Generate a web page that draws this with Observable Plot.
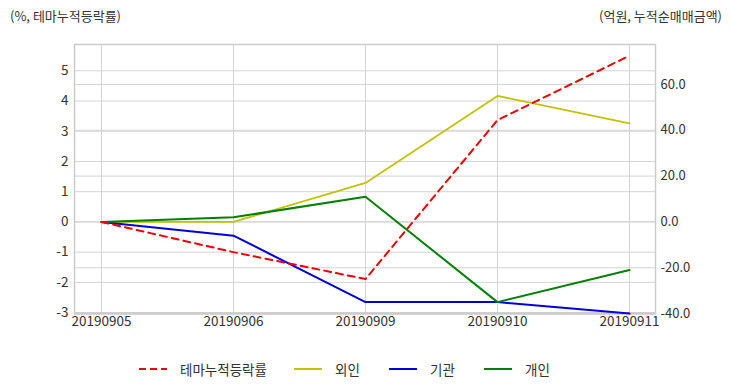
<!DOCTYPE html>
<html><head><meta charset="utf-8">
<script src="https://cdn.jsdelivr.net/npm/d3@7"></script>
<script src="https://cdn.jsdelivr.net/npm/@observablehq/plot@0.6"></script>
<style>
body{margin:0;background:#fff;font-family:"Noto Sans CJK KR","Noto Sans",sans-serif;}
#wrap{position:relative;width:732px;height:392px;overflow:hidden;}
.ttl{position:absolute;top:6px;font-size:13px;color:#333;}
#legend{position:absolute;top:359px;left:0;width:732px;height:20px;font-size:13.5px;color:#333;}
.li{position:absolute;top:0;display:flex;align-items:center;height:20px;}
.li svg{margin-right:13px;}
</style></head>
<body><div id="wrap">
<div class="ttl" style="left:10px">(%, 테마누적등락률)</div>
<div class="ttl" style="right:10px">(억원, 누적순매매금액)</div>
<div id="chart"></div>
<div id="legend"></div>
</div>
<script>
const dates = ["20190905","20190906","20190909","20190910","20190911"];
const themeRate = [0, -1.0, -1.89, 3.37, 5.5];      // %, left axis
const foreign = [0, 0, 17, 55, 43];                  // 억원, right axis
const institution = [0, -6, -35, -35, -40];
const individual = [0, 2, 11, -35, -21];
const leftTicks = [-3,-2,-1,0,1,2,3,4,5];
const rightTicks = [-40,-20,0,20,40,60];
const seriesNames = ["테마누적등락률","외인","기관","개인"];
const seriesColors = ["#ee0000","#c2c200","#0000dd","#008000"];

const k = 0.0758; // right-axis units -> left-axis units
const toRows = (vals, scale) => vals.map((v,i)=>({date:dates[i], v: v*scale}));
const rows = [
  toRows(themeRate,1), toRows(foreign,k), toRows(institution,k), toRows(individual,k)
];
const grid = "#d4d4d4";
const chart = Plot.plot({
  width: 732, height: 340,
  marginTop: 44, marginBottom: 27, marginLeft: 74, marginRight: 77,
  style: {fontFamily: '"Noto Sans CJK KR","Noto Sans",sans-serif', fontSize: "12px", color:"#333", background:"#fff"},
  x: {type:"point", domain: dates, padding: 0.2, label: null},
  y: {domain: [-3.03, 5.87], label: null},
  marks: [
    Plot.ruleY(leftTicks, {stroke: grid, strokeWidth: 1}),
    Plot.ruleY(rightTicks.map(r=>r*k), {stroke: grid, strokeWidth: 1}),
    Plot.ruleX(dates, {stroke: grid, strokeWidth: 1}),
    Plot.frame({stroke: "#cccccc", strokeWidth: 1.5}),
    Plot.ruleY([-3.03], {stroke: "#cccccc", strokeWidth: 2.5}),
    Plot.line(rows[1], {x:"date", y:"v", stroke: seriesColors[1], strokeWidth: 1.8}),
    Plot.line(rows[2], {x:"date", y:"v", stroke: seriesColors[2], strokeWidth: 2}),
    Plot.line(rows[3], {x:"date", y:"v", stroke: seriesColors[3], strokeWidth: 2}),
    Plot.line(rows[0], {x:"date", y:"v", stroke: seriesColors[0], strokeWidth: 2, strokeDasharray: "7,5"}),
    Plot.axisY({anchor:"left", ticks: leftTicks, tickSize: 0, tickPadding: 6, tickFormat: d=>String(d), fontSize: 13.5}),
    Plot.axisY({anchor:"right", ticks: rightTicks.map(r=>r*k), tickSize: 0, tickPadding: 5, tickFormat: d=>(Math.round(d/k)).toFixed(1), fontSize: 13}),
    Plot.axisX({anchor:"bottom", tickSize: 0, tickPadding: 3, fontSize: 13.5})
  ]
});
document.getElementById("chart").appendChild(chart);

const lg = document.getElementById("legend");
const legendLeft = [139, 294, 389, 484];
seriesNames.forEach((n,i)=>{
  const d = document.createElement("div"); d.className="li";
  d.style.left = legendLeft[i] + "px";
  const dash = i===0 ? 'stroke-dasharray="7,4"' : '';
  d.innerHTML = `<svg width="28" height="10"><line x1="0" y1="5" x2="28" y2="5" stroke="${seriesColors[i]}" stroke-width="2" ${dash}/></svg><span>${n}</span>`;
  lg.appendChild(d);
});
</script></body></html>
